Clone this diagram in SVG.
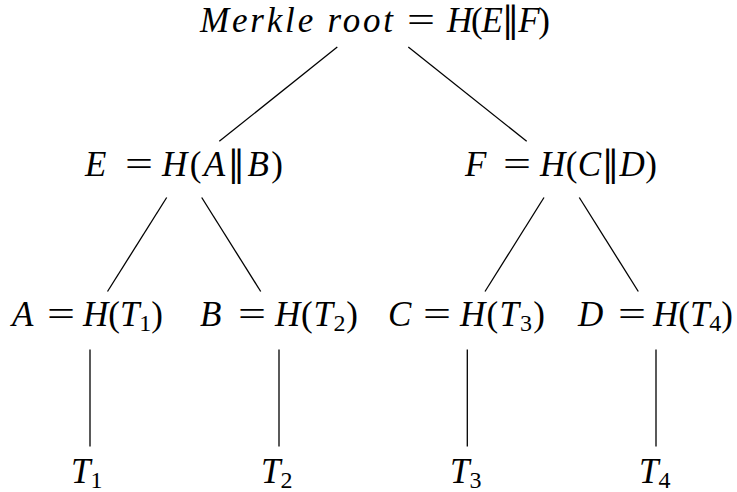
<svg xmlns="http://www.w3.org/2000/svg" width="737" height="492" viewBox="0 0 737 492">
<style>
text { font-family: "Liberation Serif", "DejaVu Serif", serif; font-size: 35px; fill: #000; }
.i { font-style: italic; }
.s { font-size: 24px; font-style: normal; }
.p { font-family: "DejaVu Serif", "Liberation Serif", serif; font-style: normal; }
.c line { stroke: #000; stroke-width: 1.3; fill: none; }
</style>
<rect width="737" height="492" fill="#fff"/>
<g class="c" id="connectors">
<line x1="337.3" y1="47" x2="219.3" y2="141.3"/>
<line x1="408.3" y1="47" x2="526.7" y2="141.3"/>
<line x1="166.7" y1="197.5" x2="107.5" y2="291.5"/>
<line x1="201.7" y1="197.5" x2="260.7" y2="291.5"/>
<line x1="544" y1="197.5" x2="485" y2="291.5"/>
<line x1="579.3" y1="197.5" x2="638.3" y2="291.5"/>
<line x1="90" y1="349.5" x2="90" y2="446.5"/>
<line x1="279" y1="349.5" x2="279" y2="446.5"/>
<line x1="467.3" y1="349.5" x2="467.3" y2="446.5"/>
<line x1="656" y1="349.5" x2="656" y2="446.5"/>
</g>
<g id="root">
<text class="i" x="200" y="32" textLength="193" lengthAdjust="spacing">Merkle root</text>
<text x="407" y="32" textLength="28" lengthAdjust="spacingAndGlyphs">=</text>
<text x="447" y="32" textLength="103" lengthAdjust="spacing"><tspan class="i">H</tspan>(<tspan class="i">E</tspan><tspan class="p">‖</tspan><tspan class="i">F</tspan>)</text>
</g>
<g id="E">
<text class="i" x="85" y="176">E</text>
<text x="125" y="176" textLength="28" lengthAdjust="spacingAndGlyphs">=</text>
<text x="162" y="176" textLength="121" lengthAdjust="spacing"><tspan class="i">H</tspan>(<tspan class="i">A</tspan><tspan class="p">‖</tspan><tspan class="i">B</tspan>)</text>
</g>
<g id="F">
<text class="i" x="465" y="176">F</text>
<text x="503" y="176" textLength="28" lengthAdjust="spacingAndGlyphs">=</text>
<text x="540" y="176" textLength="117" lengthAdjust="spacing"><tspan class="i">H</tspan>(<tspan class="i">C</tspan><tspan class="p">‖</tspan><tspan class="i">D</tspan>)</text>
</g>
<g id="A">
<text class="i" x="12" y="326">A</text>
<text x="47" y="326" textLength="28" lengthAdjust="spacingAndGlyphs">=</text>
<text x="83" y="326" textLength="80" lengthAdjust="spacing"><tspan class="i">H</tspan>(<tspan class="i">T</tspan><tspan class="s" dy="5">1</tspan><tspan dy="-5">)</tspan></text>
</g>
<g id="B">
<text class="i" x="200" y="326">B</text>
<text x="238" y="326" textLength="28" lengthAdjust="spacingAndGlyphs">=</text>
<text x="275" y="326" textLength="83" lengthAdjust="spacing"><tspan class="i">H</tspan>(<tspan class="i">T</tspan><tspan class="s" dy="5">2</tspan><tspan dy="-5">)</tspan></text>
</g>
<g id="C">
<text class="i" x="388" y="326">C</text>
<text x="423" y="326" textLength="28" lengthAdjust="spacingAndGlyphs">=</text>
<text x="460" y="326" textLength="85" lengthAdjust="spacing"><tspan class="i">H</tspan>(<tspan class="i">T</tspan><tspan class="s" dy="5">3</tspan><tspan dy="-5">)</tspan></text>
</g>
<g id="D">
<text class="i" x="578" y="326">D</text>
<text x="618" y="326" textLength="28" lengthAdjust="spacingAndGlyphs">=</text>
<text x="653" y="326" textLength="80" lengthAdjust="spacing"><tspan class="i">H</tspan>(<tspan class="i">T</tspan><tspan class="s" dy="5">4</tspan><tspan dy="-5">)</tspan></text>
</g>
<g id="T1"><text x="71" y="483"><tspan class="i">T</tspan><tspan class="s" dy="5">1</tspan></text></g>
<g id="T2"><text x="261" y="483"><tspan class="i">T</tspan><tspan class="s" dy="5">2</tspan></text></g>
<g id="T3"><text x="450" y="483"><tspan class="i">T</tspan><tspan class="s" dy="5">3</tspan></text></g>
<g id="T4"><text x="639" y="483"><tspan class="i">T</tspan><tspan class="s" dy="5">4</tspan></text></g>
</svg>
